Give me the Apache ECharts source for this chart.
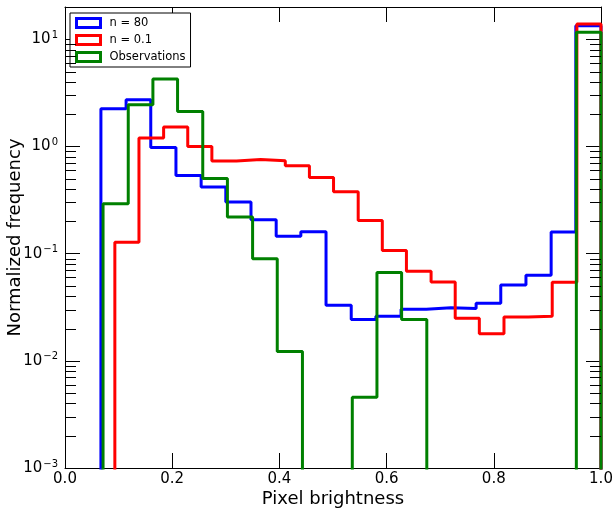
<!DOCTYPE html>
<html>
<head>
<meta charset="utf-8">
<title>Pixel brightness histogram</title>
<script src="https://cdn.jsdelivr.net/npm/echarts@6/dist/echarts.min.js"></script>
<style>
  html, body {margin:0;padding:0;background:#fff;}
  #chart {width:614px;height:511px;}
</style>
</head>
<body>
<div id="chart"></div>
<script>
// bin edges (20 bins each, from data min to 1.0)
var blueEdges  = [0.067, 0.114, 0.160, 0.207, 0.254, 0.300, 0.347, 0.394, 0.440, 0.487, 0.534, 0.580, 0.627, 0.674, 0.720, 0.767, 0.813, 0.860, 0.907, 0.953, 1.0];
var redEdges   = [0.093, 0.138, 0.184, 0.229, 0.274, 0.320, 0.365, 0.411, 0.456, 0.501, 0.547, 0.592, 0.637, 0.683, 0.728, 0.773, 0.819, 0.864, 0.909, 0.955, 1.0];
var greenEdges = [0.071, 0.118, 0.164, 0.210, 0.257, 0.303, 0.350, 0.396, 0.443, 0.489, 0.536, 0.582, 0.628, 0.675, 0.721, 0.768, 0.814, 0.861, 0.907, 0.954, 1.0];

// normalized frequency per bin
var blueValues  = [2.25, 2.72, 0.98, 0.537, 0.418, 0.303, 0.207, 0.145, 0.160, 0.033, 0.0243, 0.0261, 0.0303, 0.0312, 0.0307, 0.0344, 0.051, 0.063, 0.159, 13.4];
var redValues   = [0.128, 1.20, 1.52, 1.0, 0.73, 0.756, 0.735, 0.66, 0.514, 0.377, 0.204, 0.107, 0.0684, 0.0545, 0.0249, 0.0179, 0.0257, 0.0261, 0.054, 13.9];
var greenValues = [0.292, 2.45, 4.25, 2.12, 0.503, 0.220, 0.0898, 0.0122, 0, 0, 0.00458, 0.0665, 0.0243, 0, 0, 0, 0, 0, 0, 11.6];

var seriesNames = ['n = 80', 'n = 0.1', 'Observations'];
var seriesColors = ['#0000ff', '#ff0000', '#008000'];

var yMin = 0.001, yMax = 20;
var FONT = 'DejaVu Sans';

// zero bins fall far below the axis and get clipped (like matplotlib log clip)
function stepOutline(edges, values) {
  var floor = 1e-6;
  var pts = [[edges[0], floor]];
  for (var i = 0; i < values.length; i++) {
    var v = values[i] > 0 ? values[i] : floor;
    pts.push([edges[i], v]);
    pts.push([edges[i + 1], v]);
  }
  pts.push([edges[edges.length - 1], floor]);
  return pts;
}

// minor tick positions 2..9 x 10^k
var minorTicks = [];
for (var k = -3; k <= 1; k++) {
  for (var m = 2; m <= 9; m++) {
    var t = m * Math.pow(10, k);
    if (t <= yMax + 1e-9) minorTicks.push([0, t]);
  }
}

var chart = echarts.init(document.getElementById('chart'));

function yLabel(v) {
  var lg = Math.log10(v);
  var e = Math.round(lg);
  if (Math.abs(lg - e) > 1e-6) return '';
  var es = e < 0 ? '\u2212' + (-e) : '' + e;
  return '{b|10}{s|' + es + '}';
}

var tickLine = {show: true, inside: true, length: 15, lineStyle: {color: '#000', width: 1}};
var frameLine = {show: true, onZero: false, lineStyle: {color: '#000', width: 1}};

var option = {
  animation: false,
  backgroundColor: '#fff',
  grid: {left: 65, right: 13, top: 7, bottom: 43, containLabel: false, outerBoundsMode: 'none'},
  legend: {
    orient: 'vertical',
    left: 70,
    top: 13,
    padding: [4, 5, 4, 5],
    itemGap: 5,
    itemWidth: 24,
    itemHeight: 9,
    icon: 'rect',
    backgroundColor: '#fff',
    borderColor: '#000',
    borderWidth: 1,
    borderRadius: 0,
    textStyle: {fontFamily: FONT, fontSize: 11.5, color: '#000', padding: [0, 0, 0, 4]},
    data: seriesNames.map(function (n, i) {
      return {name: n, itemStyle: {color: 'rgba(0,0,0,0)', borderColor: seriesColors[i], borderWidth: 3}};
    })
  },
  xAxis: [{
    type: 'value', min: 0, max: 1, interval: 0.2,
    name: 'Pixel brightness', nameLocation: 'middle', nameGap: 22, nameMoveOverlap: false,
    nameTextStyle: {fontFamily: FONT, fontSize: 18, color: '#000'},
    axisLine: frameLine, axisTick: tickLine,
    splitLine: {show: false},
    axisLabel: {fontFamily: FONT, fontSize: 15, color: '#000', margin: 4,
      formatter: function (v) { return v.toFixed(1); }}
  }, {
    type: 'value', min: 0, max: 1, interval: 0.2, position: 'top',
    axisLine: frameLine, axisTick: tickLine,
    splitLine: {show: false}, axisLabel: {show: false}
  }],
  yAxis: [{
    type: 'log', logBase: 10, min: yMin, max: yMax,
    name: 'Normalized frequency', nameLocation: 'middle', nameGap: 41, nameMoveOverlap: false,
    nameTextStyle: {fontFamily: FONT, fontSize: 18, color: '#000'},
    axisLine: frameLine, axisTick: tickLine,
    splitLine: {show: false}, minorTick: {show: false},
    axisLabel: {
      margin: 7, color: '#000', formatter: yLabel, showMaxLabel: false,
      rich: {
        b: {fontFamily: FONT, fontSize: 15, color: '#000'},
        s: {fontFamily: FONT, fontSize: 10, color: '#000', verticalAlign: 'top', padding: [0, 0, 8, 1]}
      }
    }
  }, {
    type: 'log', logBase: 10, min: yMin, max: yMax, position: 'right',
    axisLine: frameLine, axisTick: tickLine,
    splitLine: {show: false}, axisLabel: {show: false}
  }],
  series: [
    {
      name: seriesNames[0], type: 'line', data: stepOutline(blueEdges, blueValues),
      showSymbol: false, symbol: 'none', clip: true,
      lineStyle: {color: seriesColors[0], width: 3}, itemStyle: {color: seriesColors[0]}
    },
    {
      name: seriesNames[1], type: 'line', data: stepOutline(redEdges, redValues),
      showSymbol: false, symbol: 'none', clip: true,
      lineStyle: {color: seriesColors[1], width: 3}, itemStyle: {color: seriesColors[1]}
    },
    {
      name: seriesNames[2], type: 'line', data: stepOutline(greenEdges, greenValues),
      showSymbol: false, symbol: 'none', clip: true,
      lineStyle: {color: seriesColors[2], width: 3}, itemStyle: {color: seriesColors[2]}
    },
    {
      // minor ticks on left and right frame
      type: 'custom', silent: true, clip: false, z: 5,
      data: minorTicks,
      renderItem: function (params, api) {
        var cs = params.coordSys;
        var p = api.coord([0, api.value(1)]);
        var y = Math.round(p[1]) + 0.5;
        var st = {stroke: '#000', lineWidth: 1};
        return {
          type: 'group',
          children: [
            {type: 'line', shape: {x1: cs.x, y1: y, x2: cs.x + 11, y2: y}, style: st},
            {type: 'line', shape: {x1: cs.x + cs.width - 11, y1: y, x2: cs.x + cs.width, y2: y}, style: st}
          ]
        };
      }
    }
  ]
};
chart.setOption(option);
</script>
</body>
</html>
